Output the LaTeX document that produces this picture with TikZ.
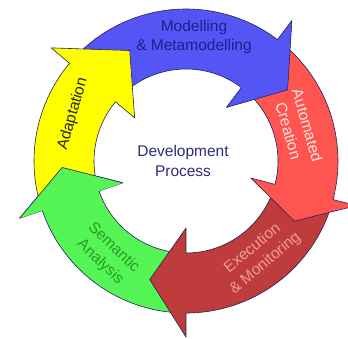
\documentclass[tikz,border=0pt]{standalone}
\usepackage{fontspec}
\setmainfont{Liberation Sans}

\definecolor{arrowblue}{RGB}{85,85,245}
\definecolor{arrowred}{RGB}{255,85,80}
\definecolor{arrowdarkred}{RGB}{190,60,60}
\definecolor{arrowgreen}{RGB}{85,245,85}
\definecolor{arrowyellow}{RGB}{255,255,0}
\definecolor{ringline}{RGB}{35,35,90}
\definecolor{txtblue}{RGB}{30,30,140}
\definecolor{txtnavy}{RGB}{45,45,125}
\definecolor{txtpink}{RGB}{255,228,228}
\definecolor{txtrose}{RGB}{238,155,155}
\definecolor{txtgreen}{RGB}{40,155,40}
\definecolor{txtdark}{RGB}{40,40,30}

\def\Rout{152pt}
\def\Rin{92pt}
\def\Rbo{176pt}
\def\Rbi{67pt}
\def\Rtip{124pt}
\def\ringarrow[#1](#2:#3:#4){\draw[#1] (#2:\Rout) arc[start angle=#2, end angle=#3, radius=\Rout] -- (#3:\Rbo) -- (#4:\Rtip) -- (#3:\Rbi) -- (#3:\Rin) arc[start angle=#3, end angle=#2, radius=\Rin] -- cycle;}
\def\ringhead[#1](#2:#3){\filldraw[#1] (#2:\Rbo) -- (#3:\Rtip) -- (#2:\Rbi);}

\tikzset{
  ring/.style={draw=ringline, line width=0.6pt, line join=round},
  lbl/.style={font=\fontsize{15.5}{19.5}\selectfont, align=center}
}

\begin{document}
\begin{tikzpicture}
	%%%%% START %%%%%
	\clip (-186pt,-177pt) rectangle (162pt,161pt);
	
	\ringarrow[ring, fill=arrowgreen](-94:-161:-177)
	\ringarrow[ring, fill=arrowdarkred](-18.7:-90:-107)
	\ringarrow[ring, fill=arrowred](49:-14.7:-29)
	\ringarrow[ring, fill=arrowblue](136:53:35)
	\ringarrow[ring, fill=arrowyellow](195:140:117)
	\ringhead[ring, fill=arrowgreen](-161:-177)
	
	\node[lbl, text=txtblue] (model) at (8pt,124pt) {Modelling\\\& Metamodelling};
	\node[lbl, text=txtpink, rotate=-74] (autocreate) at (112pt,33pt) {Automated\\Creation};
	\node[lbl, text=txtrose, rotate=40] (execmon) at (73pt,-95pt) {Execution\\\& Monitoring};
	\node[lbl, text=txtgreen, rotate=-44] (semana) at (-79pt,-94pt) {Semantic\\Analysis};
	\node[lbl, text=txtdark, rotate=74] (adapt) at (-113pt,47pt) {Adaptation};
	
	\node[lbl, text=txtnavy] (devproc) at (-3pt,0pt) {Development\\Process};
	
	%%%%% END %%%%%
\end{tikzpicture}
\end{document}
